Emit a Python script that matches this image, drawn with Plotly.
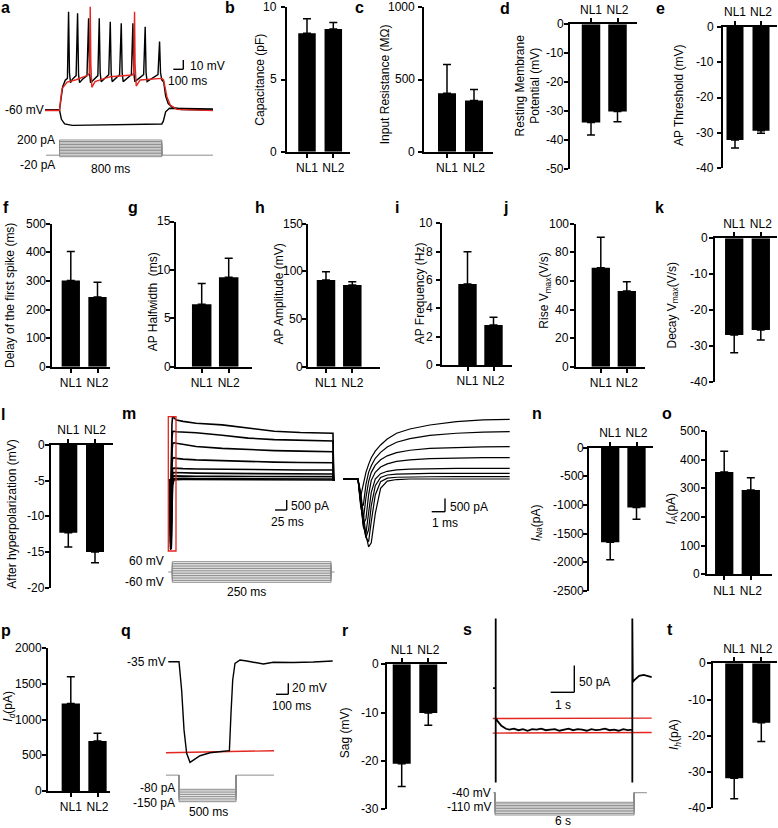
import plotly.graph_objects as go

W, H = 778, 828
FONT = "Liberation Sans, Arial, sans-serif"
RED = "#e3261f"
GREY = "#8c8c8c"

groups = ["NL1", "NL2"]

# ---------------- bar data (mean, one-sided SEM) ----------------
cap_mean = [8.2, 8.5];        cap_err = [1.0, 0.45];     cap_ticks = [0, 5, 10]
rin_mean = [404, 355];        rin_err = [200, 75];       rin_ticks = [0, 500, 1000]
rmp_mean = [-33.9, -30.1];    rmp_err = [4.3, 3.5];      rmp_ticks = [0, -10, -20, -30, -40, -50]
thr_mean = [-32.0, -29.4];    thr_err = [2.3, 0.7];      thr_ticks = [0, -10, -20, -30, -40]
delay_mean = [301, 244];      delay_err = [102, 51];     delay_ticks = [0, 100, 200, 300, 400, 500]
hw_mean = [6.45, 9.23];       hw_err = [2.15, 1.97];     hw_ticks = [0, 5, 10, 15]
amp_mean = [90.9, 85.6];      amp_err = [8.7, 3.5];      amp_ticks = [0, 50, 100, 150]
freq_mean = [5.72, 2.82];     freq_err = [2.28, 0.55];   freq_ticks = [0, 2, 4, 6, 8, 10]
rise_mean = [69.2, 52.9];     rise_err = [21.3, 6.5];    rise_ticks = [0, 20, 40, 60, 80, 100]
decay_mean = [-27.0, -25.6];  decay_err = [4.9, 2.8];    decay_ticks = [0, -10, -20, -30, -40]
ahp_mean = [-12.3, -15.0];    ahp_err = [2.0, 1.5];      ahp_ticks = [0, -5, -10, -15, -20]
ina_mean = [-1648, -1045];    ina_err = [308, 203];      ina_ticks = [0, -500, -1000, -1500, -2000, -2500]
ia_mean = [357, 294];         ia_err = [72, 43];         ia_ticks = [0, 100, 200, 300, 400, 500]
id_mean = [1228, 700];        id_err = [373, 108];       id_ticks = [0, 500, 1000, 1500, 2000]
sag_mean = [-20.6, -10.1];    sag_err = [4.7, 2.5];      sag_ticks = [0, -10, -20, -30]
ih_mean = [-31.7, -16.4];     ih_err = [5.7, 5.2];       ih_ticks = [0, -10, -20, -30, -40]

# ---------------- trace data ----------------
# a: current-clamp (ms, mV)
a_spk_t = [-113, 0, 10, 25, 45, 62, 70.9, 78, 86, 100, 130, 141.4, 149, 157, 180, 215, 227.5, 235, 243, 270,
           300, 310.9, 318, 326, 355, 385, 397, 404, 412, 440, 470, 483, 490, 498, 530, 562, 574, 581, 589,
           620, 658, 670, 677, 685, 720, 770, 782.6, 790, 800, 815, 830, 850, 880, 950, 1200]
a_spk_v = [-60, -60, -50, -35, -28, -26, 45.7, -20, -30.6, -27, -23, 43.9, -22, -30.6, -27, -23, 38.6, -20, -30.6, -27,
           -23, 38.6, -20, -29.5, -26, -22, 35, -20, -29.5, -26, -22, 33.2, -20, -29.5, -26, -22, 33.2, -20, -29.5,
           -26, -22, 29.6, -20, -29.5, -26, -22, 13.5, -20, -27.7, -30, -45, -53, -57, -59.5, -60]
a_red_t = [-113, 0, 8, 20, 60, 130, 225, 235, 240.5, 245, 253, 278, 397, 570, 580, 587, 591, 600, 631, 800,
           814, 840, 866, 918, 1200]
a_red_v = [-60.5, -60.5, -50, -37, -30, -27.5, -22.4, -20, 51.1, -10, -35.6, -29.5, -24.2, -22.4, -20, 45.7, -10,
           -34.2, -27.7, -26, -27.7, -45.7, -54.6, -59.3, -60.7]
a_hyp_t = [-113, 0, 15, 40, 100, 400, 700, 800, 812, 830, 860, 950, 1200]
a_hyp_v = [-60, -60, -70, -75, -76.5, -76, -75.5, -75, -72, -62, -58.2, -58.5, -59]
a_stim_pA = [-20, 0, 20, 40, 60, 80, 100, 120, 140, 160, 180, 200]

# m: voltage-clamp (ms, pA)
m_step_t = [-2, 0, 1, 2, 3, 4, 6, 10, 20, 40, 80, 120, 160, 200, 250, 251, 253]
m_step_pA = [
    [0, 0, -1500, 1500, 3000, 3400, 3350, 3222, 3150, 3050, 2960, 2780, 2620, 2550, 2507, 0, 0],
    [0, 0, -2000, 800, 2200, 2600, 2620, 2595, 2580, 2540, 2400, 2250, 2170, 2120, 2094, 0, 0],
    [0, 0, -2500, 200, 1500, 1950, 2000, 1970, 1900, 1800, 1700, 1620, 1580, 1550, 1521, 0, 0],
    [0, 0, -3000, -500, 800, 1150, 1200, 1163, 1120, 1080, 1030, 990, 960, 940, 930, 0, 0],
    [0, 0, -3400, -1500, 300, 600, 640, 627, 610, 590, 570, 555, 545, 540, 537, 0, 0],
    [0, 0, -3700, -2500, 0, 350, 400, 394, 385, 370, 355, 340, 330, 325, 322, 0, 0],
    [0, 0, -3760, -3000, -500, 150, 220, 215, 210, 200, 195, 188, 183, 180, 179, 0, 0],
    [0, 0, -3600, -3500, -1200, 0, 80, 89, 85, 80, 72, 65, 60, 56, 54, 0, 0],
    [0, 0, -3300, -3700, -1800, -300, 0, 20, 25, 20, 15, 10, 8, 5, 5, 0, 0],
]
m_zoom_t = [0, 1.1, 1.3, 1.5, 1.7, 1.9, 2.1, 2.4, 2.8, 3.3, 4.0, 5.0, 6.5, 8.5, 10.5, 12.5]
m_zoom_pA = [
    [0, 0, -665, -150, 250, 550, 800, 1050, 1280, 1500, 1718, 1880, 2030, 2160, 2220, 2245],
    [0, 0, -900, -1000, -200, 250, 500, 780, 1000, 1200, 1380, 1520, 1640, 1720, 1760, 1780],
    [0, 0, -1000, -1542, -700, -100, 250, 520, 720, 870, 990, 1080, 1150, 1190, 1205, 1215],
    [0, 0, -900, -1700, -1500, -600, -50, 250, 450, 570, 660, 720, 765, 790, 800, 802],
    [0, 0, -800, -1800, -2043, -1300, -500, 0, 200, 290, 340, 370, 390, 398, 400, 401],
    [0, 0, -700, -1700, -2200, -1900, -1000, -250, 60, 150, 185, 200, 208, 211, 213, 213],
    [0, 0, -600, -1600, -2200, -2356, -1600, -600, -100, 30, 65, 80, 85, 88, 88, 88],
    [0, 0, -500, -1400, -2100, -2550, -2400, -1300, -350, -80, -20, 0, 0, 0, 0, 0],
]
m_stim_mV = [-60, -50, -40, -30, -20, -10, 0, 10, 20, 30, 40, 50, 60]

# q: sag (ms, mV)
q_t = [-94, 0, 23, 44, 67, 96.5, 126, 184, 272, 360, 442, 456, 471, 491, 535, 594, 652, 740, 827, 1003, 1178, 1348]
q_v = [-35, -35, -86.5, -159, -201.6, -218, -214, -206, -200.5, -198, -196.8, -128.8, -68.3, -37.9, -31.9,
       -33.7, -36, -39.2, -36, -36.5, -35.5, -33.7]
q_red_t = [-114, 833]
q_red_v = [-200.5, -196.8]
q_stim_pA = [-80, -90, -100, -110, -120, -130, -140, -150]

# s: Ih (s, pA)
s_t = [-0.12, -0.02, 0, 0, 0, 0, 0.1, 0.25, 0.45, 0.6, 0.8, 1.0, 1.2, 1.4, 1.6, 1.8, 2.0, 2.2, 2.4, 2.6, 2.8,
       3.0, 3.2, 3.4, 3.6, 3.8, 4.0, 4.2, 4.4, 4.6, 4.8, 5.0, 5.2, 5.4, 5.6, 5.8, 6.0, 6.0, 6.0, 6.02, 6.1,
       6.3, 6.5, 6.7, 6.85]
s_i = [0, 0, 0, 131, -177, -56, -63, -70.7, -76.3, -78, -76, -79, -77, -80, -77, -78, -76, -79, -78, -77, -80,
       -78, -76, -79, -77, -78, -80, -77, -79, -78, -76, -79, -78, -80, -77, -79, -78, -177, 131, 11.8, 15.6,
       23, 25, 22, 20.6]
s_red_t = [-0.13, 6.85]
s_red_top = [-57, -56.3]
s_red_bot = [-84.4, -83.3]
s_stim_mV = [-70, -75, -80, -85, -90, -95, -100, -105, -110]

# ---------------- helpers ----------------
fig = go.Figure()
layout = dict(width=W, height=H, margin=dict(l=0, r=0, t=0, b=0), template="none",
              paper_bgcolor="white", plot_bgcolor="white", showlegend=False,
              font=dict(family=FONT, size=12, color="black"))
annotations = []
shapes = []
n_ax = [0]


def axes(xd, yd, xr, yr):
    """xd=(left_px,right_px), yd=(top_px,bottom_px); xr=(left,right), yr=(bottom,top)."""
    n_ax[0] += 1
    s = "" if n_ax[0] == 1 else str(n_ax[0])
    xa = dict(domain=[xd[0] / W, xd[1] / W], range=list(xr), anchor="y" + s, showgrid=False,
              zeroline=False, visible=False, fixedrange=True, automargin=False)
    ya = dict(domain=[1 - yd[1] / H, 1 - yd[0] / H], range=list(yr), anchor="x" + s, showgrid=False,
              zeroline=False, visible=False, fixedrange=True, automargin=False)
    layout["xaxis" + s] = xa
    layout["yaxis" + s] = ya
    return "x" + s, "y" + s


def txt(s, x, y, xanchor="left", size=12, angle=0):
    annotations.append(dict(text=s, x=x / W, y=1 - y / H, xref="paper", yref="paper", showarrow=False,
                            xanchor=xanchor, yanchor="middle", textangle=angle, borderpad=0,
                            font=dict(family=FONT, size=size, color="black")))


def letter(s, x, y):
    txt("<b>%s</b>" % s, x, y, size=16)


def scalebar(xc, yc, hl, vl):
    for (x0, y0, x1, y1) in [(xc - hl, yc, xc, yc), (xc, yc, xc, yc - vl)]:
        shapes.append(dict(type="line", xref="paper", yref="paper", x0=x0 / W, x1=x1 / W,
                           y0=1 - y0 / H, y1=1 - y1 / H, line=dict(color="black", width=1.4)))


def bar_panel(mean, err, ticks, title, tx, ty, x0, x1, c1, c2, bw, lo_px, hi_px, lo, hi, gap=6.5):
    u = c2 - c1
    xr, yr = axes((x0, x1), (hi_px, lo_px), ((x0 - c1) / u, (x1 - c1) / u), (lo, hi))
    neg = mean[0] < 0
    style = dict(visible=True, showline=True, linecolor="black", linewidth=2, ticks="outside", ticklen=4,
                 tickwidth=2, tickcolor="black", tickfont=dict(family=FONT, size=12, color="black"))
    xk = "xaxis" + xr[1:]
    yk = "yaxis" + yr[1:]
    layout[xk].update(style)
    layout[xk].update(tickvals=[0, 1], ticktext=groups, side="top" if neg else "bottom")
    layout[yk].update(style)
    layout[yk].update(tickvals=ticks, showticklabels=False)
    for t in ticks:
        ypx = lo_px + (t - lo) / (hi - lo) * (hi_px - lo_px)
        txt(str(t), x0 - gap, ypx, xanchor="right")
    fig.add_trace(go.Bar(x=[0, 1], y=mean, width=bw / u, marker=dict(color="black", line=dict(width=0)),
                         error_y=dict(type="data", symmetric=False,
                                      array=[0, 0] if neg else err, arrayminus=err if neg else [0, 0],
                                      color="black", thickness=1.5, width=4),
                         xaxis=xr, yaxis=yr, hoverinfo="skip"))
    txt(title, tx, ty, xanchor="center", angle=-90)


def line(xr, yr, x, y, color="black", width=1.4):
    fig.add_trace(go.Scatter(x=x, y=y, mode="lines", line=dict(color=color, width=width),
                             xaxis=xr, yaxis=yr, hoverinfo="skip"))


def steps(xr, yr, levels, hold, t_on, t_off, t_start, t_end):
    xs = [t_start, t_on, None, t_off, t_end, None]
    ys = [hold, hold, None, hold, hold, None]
    for L in levels:
        xs += [t_on, t_on, t_off, t_off, None]
        ys += [hold, L, L, hold, None]
    line(xr, yr, xs, ys, color=GREY, width=1)


# ---------------- bar panels ----------------
bar_panel(cap_mean, cap_err, cap_ticks, "Capacitance (pF)", 259.7, 80, 287, 350, 307, 333.3, 17.5, 151.7, 7.3, 0, 10, gap=9)
bar_panel(rin_mean, rin_err, rin_ticks, "Input Resistance (MΩ)", 385.3, 84, 424, 493, 447, 474, 18, 151.7, 7.3, 0, 1000, gap=8.5)
bar_panel(rmp_mean, rmp_err, rmp_ticks, "Resting Membrane<br>Potential (mV)", 527.5, 86, 570, 637, 591, 617.5, 18.5, 169.3, 24.3, -50, 0, gap=5.5)
bar_panel(thr_mean, thr_err, thr_ticks, "AP Threshold (mV)", 679, 95, 722.7, 777, 735, 761, 17, 168.3, 26.7, -40, 0, gap=8)
bar_panel(delay_mean, delay_err, delay_ticks, "Delay of the first spike (ms)", 10, 296, 52.3, 110, 70.8, 97.5, 18.3, 366.7, 223.7, 0, 500, gap=5.5)
bar_panel(hw_mean, hw_err, hw_ticks, "AP Halfwidth  (ms)", 153, 302.3, 175.7, 251.7, 201.7, 228.7, 19.5, 366.7, 221.5, 0, 15, gap=3.5)
bar_panel(amp_mean, amp_err, amp_ticks, "AP Amplitude (mV)", 278.5, 294, 308.3, 380, 326, 352.3, 18.5, 366.7, 223.6, 0, 150, gap=4)
bar_panel(freq_mean, freq_err, freq_ticks, "AP Frequency (Hz)", 420, 293.3, 442.3, 511.7, 467.5, 493.5, 18.4, 365, 223.3, 0, 10, gap=8)
bar_panel(rise_mean, rise_err, rise_ticks, "Rise V<sub>max</sub>(V/s)", 545, 290.7, 576, 645, 600.8, 626.8, 18.3, 366.7, 223.7, 0, 100, gap=6)
bar_panel(decay_mean, decay_err, decay_ticks, "Decay V<sub>max</sub>(V/s)", 672.5, 305, 715, 777, 734.2, 760.8, 18.3, 381.7, 238.3, -40, 0, gap=6.5)
bar_panel(ahp_mean, ahp_err, ahp_ticks, "After hyperpolarization (mV)", 11.7, 514, 50.7, 113.3, 68.3, 95, 18, 587.7, 445, -20, 0, gap=4.5)
bar_panel(ina_mean, ina_err, ina_ticks, "<i>I</i><sub><i>Na</i></sub>(pA)", 537, 523.3, 589, 653.3, 610.2, 636.5, 18.3, 591, 447.7, -2500, 0, gap=4.5)
bar_panel(ia_mean, ia_err, ia_ticks, "<i>I</i><sub><i>A</i></sub>(pA)", 671.5, 509, 706.7, 771.7, 724.2, 750.8, 18.3, 574.3, 431, 0, 500, gap=6)
bar_panel(id_mean, id_err, id_ticks, "<i>I</i><sub><i>d</i></sub>(pA)", 9, 706.7, 48.3, 110, 70.8, 97.5, 18.3, 791, 648.3, 0, 2000, gap=5.5)
bar_panel(sag_mean, sag_err, sag_ticks, "Sag (mV)", 345, 733.3, 386.7, 446.7, 401.7, 428.3, 18, 809.3, 664.3, -30, 0, gap=6.5)
bar_panel(ih_mean, ih_err, ih_ticks, "<i>I</i><sub><i>h</i></sub>(pA)", 675, 735, 713.3, 776.7, 734.2, 761.3, 18, 808.3, 663.3, -40, 0, gap=6.5)

# ---------------- panel a ----------------
xa_, ya_ = axes((45, 213), (5, 132), (-113.4, 1200.4), (-83.66, 52.9))
line(xa_, ya_, a_hyp_t, a_hyp_v)
line(xa_, ya_, a_spk_t, a_spk_v)
line(xa_, ya_, a_red_t, a_red_v, color=RED)
xs_, ys_ = axes((45, 213), (138, 159), (-113.4, 1200.4), (-50.3, 226.3))
steps(xs_, ys_, a_stim_pA, 0, 0, 800, -105, 1200)
scalebar(183.3, 69.3, 10, 9.3)
txt("10 mV", 189, 65.7)
txt("100 ms", 167, 81)
txt("-60 mV", 45, 110, xanchor="right")
txt("200 pA", 56, 140, xanchor="right")
txt("-20 pA", 56, 164.5, xanchor="right")
txt("800 ms", 110.5, 168.5, xanchor="center")

# ---------------- panel m ----------------
xm, ym = axes((165, 338), (412, 556), (-7.67, 257.7), (-4081, 3652))
for tr in m_step_pA:
    line(xm, ym, m_step_t, tr, width=1.6)
shapes.append(dict(type="rect", xref=xm, yref=ym, x0=-2.6, x1=9.2, y0=-3813, y1=3400,
                   line=dict(color=RED, width=1.3)))
xm2, ym2 = axes((340, 515), (412, 556), (-0.25, 12.9), (-2895, 2519))
for tr in m_zoom_pA:
    line(xm2, ym2, m_zoom_t, tr, width=1.2)
xms, yms = axes((165, 338), (558, 586), (-11.5, 261), (-81.5, 81.5))
steps(xms, yms, m_stim_mV, 0, 0, 250, -6.3, 255.5)
scalebar(286.7, 510, 11.7, 10)
txt("500 pA", 290, 505.5)
txt("25 ms", 269.5, 522)
scalebar(445, 511.7, 13.3, 13.3)
txt("500 pA", 449, 506.5)
txt("1 ms", 430.5, 523)
txt("60 mV", 165, 561, xanchor="right")
txt("-60 mV", 165, 582.3, xanchor="right")
txt("250 ms", 246.7, 591.7, xanchor="center")

# ---------------- panel q ----------------
xq, yq = axes((160, 340), (650, 770), (-166.7, 1412), (-231.9, -13.7))
line(xq, yq, q_red_t, q_red_v, color=RED, width=1.4)
line(xq, yq, q_t, q_v, width=1.4)
xqs, yqs = axes((160, 340), (770, 806), (-166.7, 1412), (-174.3, 29))
steps(xqs, yqs, q_stim_pA, 0, 0, 500, -114, 833)
scalebar(288.3, 694.3, 12.3, 11)
txt("20 mV", 291, 688.3)
txt("100 ms", 270.5, 706)
txt("-35 mV", 167, 661.7, xanchor="right")
txt("-80 pA", 176, 787.5, xanchor="right")
txt("-150 pA", 176, 803.3, xanchor="right")
txt("500 ms", 208.3, 811.7, xanchor="center")

# ---------------- panel s ----------------
xs2, ys2 = axes((488, 655), (615, 785), (-0.338, 6.996), (-181.9, 137.4))
line(xs2, ys2, s_red_t, s_red_top, color=RED, width=1.4)
line(xs2, ys2, s_red_t, s_red_bot, color=RED, width=1.4)
line(xs2, ys2, s_t, s_i, width=1.8)
xss, yss = axes((488, 655), (788, 819), (-0.302, 6.9), (-122.6, -25.2))
steps(xss, yss, s_stim_mV, -40, 0, 6, -0.073, 6.55)
scalebar(574.3, 692.3, 23.6, 26.7)
txt("50 pA", 578, 681.7)
txt("1 s", 562.7, 705, xanchor="center")
txt("-40 mV", 492, 793, xanchor="right")
txt("-110 mV", 492, 807.3, xanchor="right")
txt("6 s", 562.7, 821, xanchor="center")

# ---------------- panel letters ----------------
for s, x, y in [("a", 0, 7.5), ("b", 224, 7.7), ("c", 354, 7.5), ("d", 499, 8), ("e", 655, 8.5),
                ("f", 2, 207.7), ("g", 127, 207.5), ("h", 254, 207.7), ("i", 394, 207.5), ("j", 502, 207.5),
                ("k", 654, 207.5), ("l", 0, 414), ("m", 121, 413), ("n", 531, 413), ("o", 661, 413),
                ("p", 0, 630.5), ("q", 120, 630.5), ("r", 341, 630.5), ("s", 462, 629.5), ("t", 666, 629.5)]:
    letter(s, x, y)

layout["annotations"] = annotations
layout["shapes"] = shapes
fig.update_layout(**layout)
fig.write_html("out.html", config={"displayModeBar": False, "staticPlot": True},
               post_script="document.body.style.margin='0px';document.body.style.overflow='hidden';")
